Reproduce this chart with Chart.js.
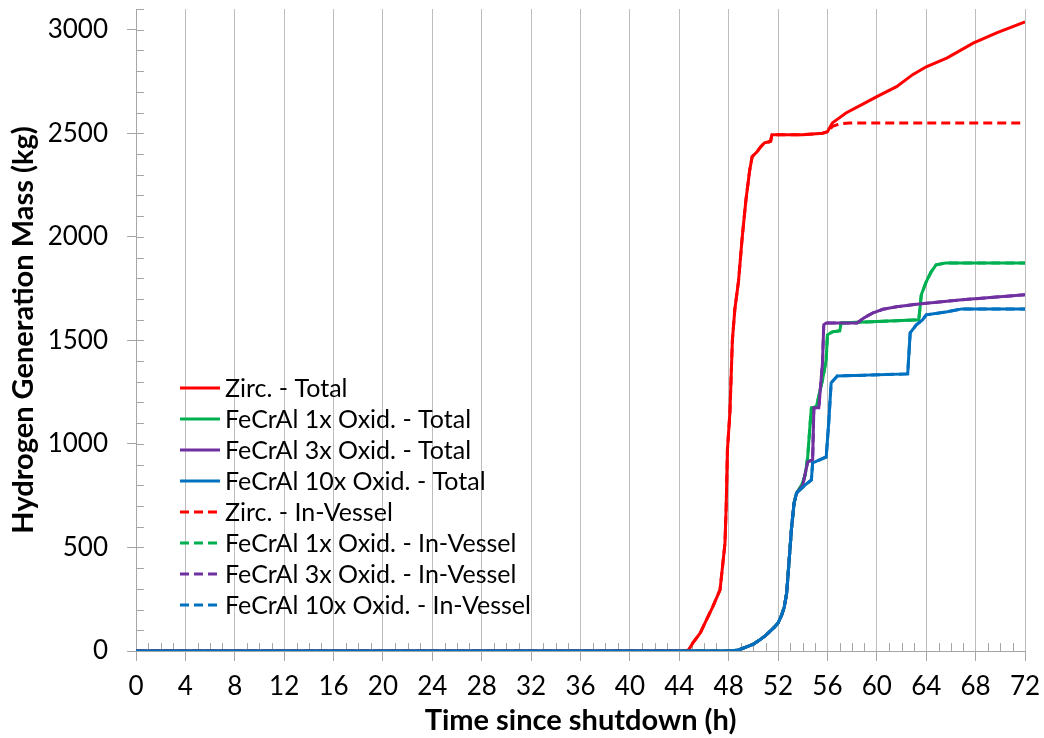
<!DOCTYPE html>
<html>
<head>
<meta charset="utf-8">
<title>Hydrogen Generation Mass</title>
<script src="https://cdn.jsdelivr.net/npm/chart.js@4.4.0/dist/chart.umd.min.js"></script>
<style>
  html, body { margin: 0; padding: 0; background: #ffffff; }
  #wrap { width: 1044px; height: 738px; }
</style>
</head>
<body>
<div id="wrap"><canvas id="c" width="1044" height="738"></canvas></div>
<script>
// ---- data (time in hours since shutdown, mass in kg) ----
const zircTime = [0, 44.7, 45.1, 45.7, 46.2, 46.7, 47.3, 47.5, 47.7, 47.8, 47.9, 48.1, 48.3, 48.5, 48.8, 49.1, 49.4, 49.7, 49.9, 50.3, 50.6, 50.9, 51.3, 51.4, 51.5, 54.0, 55.6, 56.0, 56.4, 57.5, 58.9, 60.0, 61.6, 62.9, 64.0, 65.7, 67.8, 69.7, 72];
const zircTotal = [0, 0, 39, 87, 150, 212, 295, 406, 520, 700, 971, 1150, 1500, 1650, 1787, 2000, 2179, 2320, 2387, 2411, 2435, 2454, 2459, 2462, 2493, 2493, 2500, 2507, 2550, 2598, 2642, 2677, 2725, 2783, 2821, 2864, 2935, 2985, 3038];

const zircVesselTime = [0, 44.7, 45.1, 45.7, 46.2, 46.7, 47.3, 47.5, 47.7, 47.8, 47.9, 48.1, 48.3, 48.5, 48.8, 49.1, 49.4, 49.7, 49.9, 50.3, 50.6, 50.9, 51.3, 51.4, 51.5, 54.0, 55.6, 56.0, 56.4, 57.0, 57.8, 72];
const zircVessel = [0, 0, 39, 87, 150, 212, 295, 406, 520, 700, 971, 1150, 1500, 1650, 1787, 2000, 2179, 2320, 2387, 2411, 2435, 2454, 2459, 2462, 2493, 2493, 2500, 2507, 2533, 2545, 2550, 2550];

const fecral1Time = [0, 48.1, 48.8, 49.4, 50.0, 50.5, 51.0, 51.3, 51.7, 52.0, 52.3, 52.5, 52.7, 52.9, 53.1, 53.3, 53.5, 53.9, 54.2, 54.4, 54.6, 54.7, 55.1, 55.6, 55.9, 56.0, 56.4, 57.0, 57.1, 63.4, 63.6, 64.0, 64.4, 64.8, 65.6, 72];
const fecral1Total = [0, 0, 5, 19, 33, 53, 75, 92, 115, 135, 175, 212, 280, 440, 600, 715, 763, 800, 850, 937, 1100, 1174, 1179, 1309, 1406, 1527, 1541, 1546, 1584, 1599, 1720, 1783, 1831, 1865, 1874, 1874];

const fecral3Time = [0, 48.1, 48.8, 49.4, 50.0, 50.5, 51.0, 51.3, 51.7, 52.0, 52.3, 52.5, 52.7, 52.9, 53.1, 53.3, 53.5, 54.0, 54.4, 54.8, 54.9, 55.3, 55.6, 55.7, 55.9, 58.4, 59.0, 59.7, 60.5, 61.6, 63.4, 66.9, 72];
const fecral3Total = [0, 0, 5, 19, 33, 53, 75, 92, 115, 135, 175, 212, 280, 440, 600, 715, 763, 800, 913, 923, 1174, 1174, 1391, 1575, 1584, 1584, 1610, 1633, 1650, 1662, 1676, 1696, 1720];

const fecral10Time = [0, 48.1, 48.8, 49.4, 50.0, 50.5, 51.0, 51.3, 51.7, 52.0, 52.3, 52.5, 52.7, 52.9, 53.1, 53.3, 53.5, 54.2, 54.7, 54.8, 55.9, 56.1, 56.3, 56.8, 62.5, 62.7, 63.2, 63.7, 64.0, 65.7, 66.9, 72];
const fecral10Total = [0, 0, 5, 19, 33, 53, 75, 92, 115, 135, 175, 212, 280, 440, 600, 715, 763, 802, 826, 908, 937, 1100, 1295, 1328, 1338, 1536, 1575, 1599, 1623, 1638, 1652, 1652];

// In-vessel amounts for the FeCrAl cases coincide with their totals
const fecral1Vessel = fecral1Total;
const fecral3Vessel = fecral3Total;
const fecral10Vessel = fecral10Total;

const xTickValues = [0, 4, 8, 12, 16, 20, 24, 28, 32, 36, 40, 44, 48, 52, 56, 60, 64, 68, 72];
const yTickValues = [0, 500, 1000, 1500, 2000, 2500, 3000];
const seriesLabels = [
  'Zirc. - Total', 'FeCrAl 1x Oxid. - Total', 'FeCrAl 3x Oxid. - Total', 'FeCrAl 10x Oxid. - Total',
  'Zirc. - In-Vessel', 'FeCrAl 1x Oxid. - In-Vessel', 'FeCrAl 3x Oxid. - In-Vessel', 'FeCrAl 10x Oxid. - In-Vessel'
];

// ---- styling ----
const RED = '#ff0000', GREEN = '#00b050', PURPLE = '#7030a0', BLUE = '#0070c0';
const FONT = 'Lato, "Open Sans", sans-serif';
const DASH = [9, 5];
const X_MINOR_STEP = 1, Y_MINOR_STEP = 100;

const pts = (t, v) => t.map((x, i) => ({ x, y: v[i] }));

function series(label, t, v, color, dashed, order) {
  return {
    label, data: pts(t, v), borderColor: color, backgroundColor: color,
    borderWidth: 3, borderDash: dashed ? DASH : [], pointRadius: 0,
    tension: 0, fill: false, order
  };
}

const datasets = [
  series(seriesLabels[0], zircTime, zircTotal, RED, false, 3),
  series(seriesLabels[1], fecral1Time, fecral1Total, GREEN, false, 2),
  series(seriesLabels[2], fecral3Time, fecral3Total, PURPLE, false, 1),
  series(seriesLabels[3], fecral10Time, fecral10Total, BLUE, false, 0),
  series(seriesLabels[4], zircVesselTime, zircVessel, RED, true, 4),
  series(seriesLabels[5], fecral1Time, fecral1Vessel, GREEN, true, 5),
  series(seriesLabels[6], fecral3Time, fecral3Vessel, PURPLE, true, 6),
  series(seriesLabels[7], fecral10Time, fecral10Vessel, BLUE, true, 7)
];

// small inward ticks on both axes
const minorTicks = {
  id: 'minorTicks',
  beforeDatasetsDraw(chart) {
    const { ctx, scales: { x, y } } = chart;
    ctx.save();
    ctx.strokeStyle = '#a6a6a6';
    ctx.lineWidth = 1;
    ctx.beginPath();
    for (let v = x.min; v <= x.max; v += X_MINOR_STEP) {
      if (xTickValues.includes(v)) continue;
      const px = Math.round(x.getPixelForValue(v)) + 0.5;
      ctx.moveTo(px, y.bottom);
      ctx.lineTo(px, y.bottom - 8);
    }
    for (let v = y.min; v <= y.max; v += Y_MINOR_STEP) {
      const py = Math.round(y.getPixelForValue(v)) + 0.5;
      ctx.moveTo(x.left, py);
      ctx.lineTo(x.left + 8, py);
    }
    ctx.stroke();
    ctx.restore();
  }
};

// single-column legend inside the plot area
const insideLegend = {
  id: 'insideLegend',
  afterDraw(chart, args, opts) {
    const { ctx } = chart;
    ctx.save();
    ctx.font = opts.font;
    ctx.textBaseline = 'middle';
    ctx.textAlign = 'left';
    chart.data.datasets.forEach((ds, i) => {
      const yy = opts.top + i * opts.rowHeight;
      ctx.strokeStyle = ds.borderColor;
      ctx.lineWidth = 3;
      ctx.setLineDash(ds.borderDash || []);
      ctx.beginPath();
      ctx.moveTo(opts.left, yy);
      ctx.lineTo(opts.left + opts.lineLength, yy);
      ctx.stroke();
      ctx.setLineDash([]);
      ctx.fillStyle = '#000';
      ctx.fillText(ds.label, opts.left + opts.lineLength + opts.gap, yy + 1);
    });
    ctx.restore();
  }
};

new Chart(document.getElementById('c'), {
  type: 'line',
  data: { datasets },
  plugins: [minorTicks, insideLegend],
  options: {
    responsive: false,
    animation: false,
    events: [],
    layout: { padding: { top: 9, right: 19, left: 0, bottom: 0 } },
    plugins: {
      legend: { display: false },
      tooltip: { enabled: false },
      insideLegend: { left: 180, top: 388, rowHeight: 31, lineLength: 40, gap: 5, font: '25px ' + FONT }
    },
    scales: {
      x: {
        type: 'linear', min: 0, max: 72,
        afterBuildTicks: s => { s.ticks = xTickValues.map(v => ({ value: v })); },
        afterFit: s => { s.height = 87; s.paddingLeft = 0; s.paddingRight = 0; },
        ticks: { color: '#000', font: { family: FONT, size: 26 }, padding: 10, maxRotation: 0, autoSkip: false,
                 callback: v => String(v) },
        grid: { color: '#bdbdbd', lineWidth: 1, drawTicks: true, tickLength: 10, tickColor: '#a6a6a6' },
        border: { color: '#a6a6a6', width: 1 },
        title: { display: true, text: 'Time since shutdown (h)', color: '#000',
                 font: { family: FONT, size: 29, weight: 'bold' }, padding: { top: 0, bottom: 0 } }
      },
      y: {
        type: 'linear', min: 0, max: 3100,
        afterBuildTicks: s => { s.ticks = yTickValues.map(v => ({ value: v })); },
        afterFit: s => { s.width = 136; s.paddingTop = 0; s.paddingBottom = 0; },
        ticks: { color: '#000', font: { family: FONT, size: 26 }, padding: 19, callback: v => String(v) },
        grid: { drawOnChartArea: false, drawTicks: true, tickLength: 9, color: '#a6a6a6' },
        border: { color: '#a6a6a6', width: 1 },
        title: { display: true, text: 'Hydrogen Generation Mass (kg)', color: '#000',
                 font: { family: FONT, size: 29, weight: 'bold' }, padding: { top: 6, bottom: 0 } }
      }
    }
  }
});
</script>
</body>
</html>
